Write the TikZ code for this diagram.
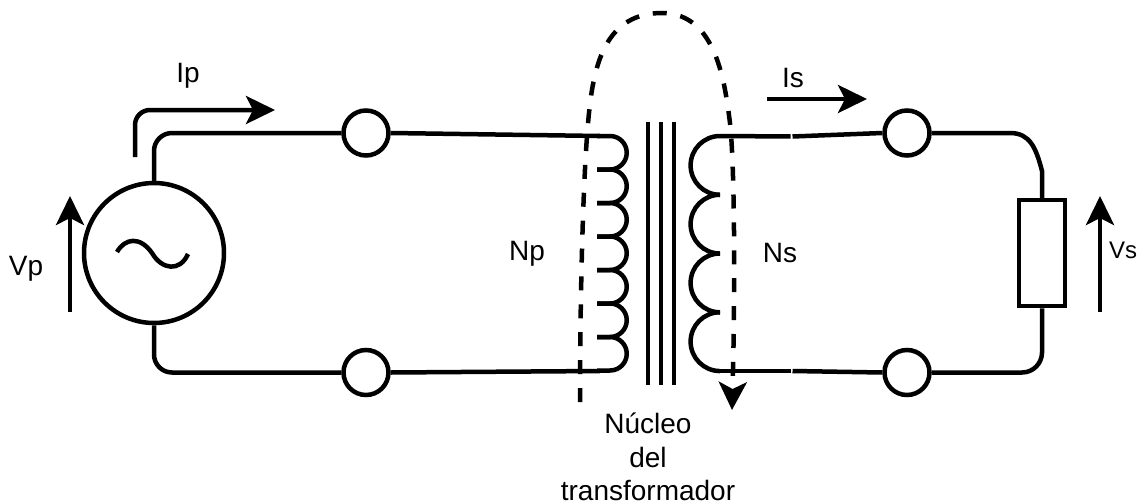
\documentclass[tikz,border=0pt]{standalone}
\usepackage{fontspec}
\setmainfont{Liberation Sans}
\usetikzlibrary{arrows.meta,positioning}

\begin{document}
\begin{tikzpicture}
	[ x=1pt,y=-1pt,line width=4.5pt,
		wire/.style={line width=4.5pt},
		terminal/.style={circle,draw,line width=4.5pt,minimum size=45pt,inner sep=0pt},
		source/.style={circle,draw,line width=4.5pt,minimum size=140pt,inner sep=0pt},
		load/.style={rectangle,draw,line width=4.5pt,minimum width=46pt,minimum height=106pt,inner sep=0pt},
		caption/.style={font=\fontsize{28pt}{33.5pt}\selectfont,inner sep=0pt,align=center},
		arrowOut/.style={-{Stealth[length=29pt,width=28pt,inset=7pt]},line width=4.5pt},
		flux/.style={-{Stealth[length=28pt,width=28pt,inset=7pt]},line width=4.5pt,dash pattern=on 14pt off 13.9pt}]

	\useasboundingbox (0,0) rectangle (1147,503);

	\node[source] (generator) at (154,253) {};
	\node[terminal] (in top) at (366,133) {};
	\node[terminal] (in bottom) [below=190pt of in top] {};
	\node[terminal] (out top) at (907,133) {};
	\node[terminal] (out bottom) [below=190pt of out top] {};
	\node[load] (resistor) at (1042,253) {};

	\coordinate (primary top) at (600,136);
	\coordinate (primary bottom) at (600,371);
	\coordinate (secondary top) at (720,136);
	\coordinate (secondary bottom) at (720,371);
	\coordinate (break top a) at (790.5,136.5);
	\coordinate (break top b) at (792.5,136.5);
	\coordinate (break bottom a) at (790.5,371);
	\coordinate (break bottom b) at (792.5,371);
	\coordinate (bend start) at (1010,133);
	\coordinate (bend end) at (1042,171);

	\draw[wire,rounded corners=18pt] (generator.north) |- (in top.west);
	\draw[wire,rounded corners=18pt] (generator.south) |- (in bottom.west);
	\draw[wire] (in top.east) -- (primary top);
	\draw[wire] (in bottom.east) -- (primary bottom);
	\draw[wire] (secondary top) -- (break top a);
	\draw[wire] (break top b) -- (out top.west);
	\draw[wire] (secondary bottom) -- (break bottom a);
	\draw[wire] (break bottom b) -- (out bottom.west);
	\draw[wire] (out top.east) -- (bend start) .. controls (1030,133) and (1036,148) .. (bend end) -- (resistor.north);
	\draw[wire,rounded corners=20pt] (resistor.south) |- (out bottom.east);

	\draw[wire] (117,252) .. controls (125,238) and (140,236) .. (152,253) .. controls (162,270) and (180,272) .. (188,254);

	\foreach \k in {0,...,6}
		\draw[wire] (597,136+33.5*\k) -- ++(13,0) arc[start angle=90,end angle=-90,radius=16.75pt] -- ++(-13,0);
	\foreach \k in {0,...,3}
		\draw[wire] (720,136+58.75*\k) arc[start angle=90,end angle=270,radius=29.4pt];
	\foreach \x in {648,661,674}
		\draw[wire] (\x,122) -- (\x,385);

	\coordinate (ip start) at (135,157);
	\coordinate (ip end) at (275,110);
	\coordinate (is start) at (767,99);
	\coordinate (is end) at (867,99);
	\coordinate (vp start) at (70,312);
	\coordinate (vp end) at (70,196);
	\coordinate (vs start) at (1100,312);
	\coordinate (vs end) at (1100,196);
	\coordinate (flux start) at (580,402);
	\coordinate (flux end) at (732,410);

	\draw[arrowOut,rounded corners=15pt] (ip start) |- (ip end);
	\draw[arrowOut] (is start) -- (is end);
	\draw[arrowOut] (vp start) -- (vp end);
	\draw[arrowOut] (vs start) -- (vs end);
	\draw[flux] (flux start) .. controls (580,300) and (583,170) .. (589,113) .. controls (594,62) and (607,13) .. (662,13) .. controls (717,13) and (725,85) .. (730,123) .. controls (735,170) and (735,300) .. (flux end);

	\node[caption] (label ip) at (188,76) {Ip};
	\node[caption] (label is) at (793,78) {Is};
	\node[caption] (label vp) at (26,269) {Vp};
	\node[caption,font=\fontsize{24pt}{30pt}\selectfont] (label vs) at (1123,250) {Vs};
	\node[caption] (label np) at (527,254) {Np};
	\node[caption] (label ns) at (780,253) {Ns};
	\node[caption] (label core) at (648,457) {Núcleo\\del\\transformador};
\end{tikzpicture}
\end{document}
